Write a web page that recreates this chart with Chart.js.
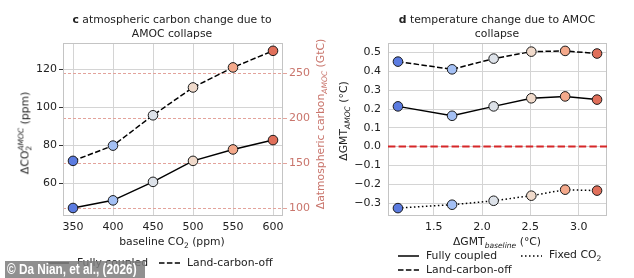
<!DOCTYPE html>
<html>
<head>
<meta charset="utf-8">
<script src="https://cdn.jsdelivr.net/npm/chart.js@4.4.1/dist/chart.umd.min.js"></script>
<style>
  body { margin: 0; background: #fff; width: 634px; height: 278px; position: relative; overflow: hidden;
         font-family: "DejaVu Sans", sans-serif; color: #222; }
  canvas { position: absolute; top: 0; }
  .txt { position: absolute; font-size: 10.8px; white-space: nowrap; line-height: 1; }
  .title { text-align: center; line-height: 14px; transform: translateX(-50%); }
  .rot { transform: translate(-50%, -50%) rotate(-90deg); }
  .hx { transform: translate(-50%, -50%); }
  .ss { display: inline-block; vertical-align: middle; font-size: 0.7em; line-height: 1; text-align: left; }
  .ss span { display: block; }
  sub { font-size: 0.7em; }
  .leg { position: absolute; font-size: 10.8px; line-height: 1; white-space: nowrap; transform: translateY(-50%); }
  .legline { position: absolute; }
  .wm { position: absolute; left: 5px; top: 261px; width: 140px; height: 17px; background: rgba(125,125,125,0.85);
        color: #fff; font: bold 14px "Liberation Sans", sans-serif; line-height: 17px;
        box-sizing: border-box; white-space: nowrap; overflow: hidden; }
  .wm span { display: inline-block; transform-origin: left center; transform: translateX(2px) scaleX(0.84); }
</style>
</head>
<body>
<canvas id="chartC" width="317" height="278" style="left:0"></canvas>
<canvas id="chartD" width="317" height="278" style="left:317px"></canvas>

<!-- titles -->
<div class="txt title" style="left:172px; top:13px"><b>c</b> atmospheric carbon change due to<br>AMOC collapse</div>
<div class="txt title" style="left:497px; top:13px"><b>d</b> temperature change due to AMOC<br>collapse</div>

<!-- axis titles -->
<div class="txt rot" style="left:25px; top:133px">ΔCO<span class="ss"><span><i>AMOC</i></span><span>2</span></span> (ppm)</div>
<div class="txt hx" style="left:172px; top:243px">baseline CO<sub>2</sub> (ppm)</div>
<div class="txt rot" style="left:322px; top:124px; color:#c9756c">Δatmospheric carbon<sub><i>AMOC</i></sub> (GtC)</div>
<div class="txt rot" style="left:345px; top:121px">ΔGMT<sub><i>AMOC</i></sub> (°C)</div>
<div class="txt hx" style="left:497px; top:243px">ΔGMT<sub><i>baseline</i></sub> (°C)</div>

<!-- legends -->
<svg class="legline" style="left:48px; top:259px" width="21" height="8"><line x1="0" y1="4" x2="21" y2="4" stroke="#000" stroke-width="1.5"/></svg>
<div class="leg" style="left:77px; top:263px">Fully coupled</div>
<svg class="legline" style="left:159px; top:259px" width="21" height="8"><line x1="0" y1="4" x2="21" y2="4" stroke="#000" stroke-width="1.5" stroke-dasharray="5.5 2.4"/></svg>
<div class="leg" style="left:187px; top:263px">Land-carbon-off</div>

<svg class="legline" style="left:398px; top:252px" width="21" height="8"><line x1="0" y1="4" x2="21" y2="4" stroke="#000" stroke-width="1.5"/></svg>
<div class="leg" style="left:426px; top:256px">Fully coupled</div>
<svg class="legline" style="left:398px; top:266px" width="21" height="8"><line x1="0" y1="4" x2="21" y2="4" stroke="#000" stroke-width="1.5" stroke-dasharray="5.5 2.4"/></svg>
<div class="leg" style="left:426px; top:270px">Land-carbon-off</div>
<svg class="legline" style="left:521px; top:252px" width="21" height="8"><line x1="0" y1="4" x2="21" y2="4" stroke="#000" stroke-width="1.5" stroke-dasharray="1.5 2.5"/></svg>
<div class="leg" style="left:549px; top:256px">Fixed CO<sub>2</sub></div>

<div class="wm"><span>© Da Nian, et al., (2026)</span></div>

<script>
// panel c data
const co2Baseline = [350, 400, 450, 500, 550, 600];
const fullyCoupledPpm = [47.2, 51.2, 60.9, 71.9, 77.9, 82.8];
const landOffPpm = [71.9, 79.9, 95.8, 110.4, 120.9, 129.6];
const co2Ticks = [350, 400, 450, 500, 550, 600];
const ppmTicks = [60, 80, 100, 120];
const gtcTicks = [100, 150, 200, 250];
const ppmToGtc = 2.12;

// panel d data
const gmtBaseline = [1.13, 1.69, 2.12, 2.51, 2.86, 3.19];
const fullyCoupledGmt = [0.214, 0.164, 0.214, 0.257, 0.267, 0.250];
const landOffGmt = [0.452, 0.411, 0.468, 0.505, 0.509, 0.495];
const fixedCo2Gmt = [-0.327, -0.309, -0.288, -0.261, -0.229, -0.234];
const gmtXTicks = [1.5, 2.0, 2.5, 3.0];
const gmtYTicks = [-0.3, -0.2, -0.1, 0.0, 0.1, 0.2, 0.3, 0.4, 0.5];
const zeroLevel = 0;

// marker colours (coolwarm-ish, one per baseline)
const pointColors = ['#5b7be0', '#a4c0f4', '#dde2e9', '#f0dacb', '#f4a98b', '#e06f5a'];

const FONT = { family: 'DejaVu Sans', size: 11 };
const GRID = '#d4d4d4';
const ROSE = '#c9756c';

function pairs(xs, ys) {
    return xs.map((x, i) => ({ x: x, y: ys[i] }));
}

function series(label, xs, ys, dash, axis) {
    return {
        label: label,
        data: pairs(xs, ys),
        yAxisID: axis || 'y',
        borderColor: '#000',
        borderWidth: 1.5,
        borderDash: dash,
        pointRadius: 4.8,
        pointHoverRadius: 4.8,
        pointBackgroundColor: pointColors,
        pointBorderColor: '#1a1a1a',
        pointBorderWidth: 1,
        tension: 0
    };
}

function fixTicks(list) {
    return function(scale) {
        scale.ticks = list.map(v => ({ value: v }));
    };
}

// light frame around the plot area
const framePlugin = {
    id: 'frame',
    beforeDatasetsDraw(chart) {
        const a = chart.chartArea;
        const ctx = chart.ctx;
        ctx.save();
        ctx.strokeStyle = '#c4c4c4';
        ctx.lineWidth = 1;
        ctx.strokeRect(Math.round(a.left) + 0.5, Math.round(a.top) + 0.5,
            Math.round(a.right - a.left) - 1, Math.round(a.bottom - a.top) - 1);
        ctx.restore();
    }
};

// red dashed zero line in panel d
const zeroPlugin = {
    id: 'zeroLine',
    beforeDatasetsDraw(chart) {
        const a = chart.chartArea;
        const y = chart.scales.y.getPixelForValue(zeroLevel);
        const ctx = chart.ctx;
        ctx.save();
        ctx.strokeStyle = '#d62728';
        ctx.lineWidth = 2;
        ctx.setLineDash([7.4, 3.2]);
        ctx.beginPath();
        ctx.moveTo(a.left, y);
        ctx.lineTo(a.right, y);
        ctx.stroke();
        ctx.restore();
    }
};

const ppmMin = 43.0, ppmMax = 133.7;

new Chart(document.getElementById('chartC'), {
    type: 'line',
    data: {
        datasets: [
            series('Fully coupled', co2Baseline, fullyCoupledPpm, []),
            series('Land-carbon-off', co2Baseline, landOffPpm, [5.5, 2.4])
        ]
    },
    options: {
        responsive: false,
        animation: false,
        events: [],
        layout: { padding: { top: 43, left: 0, right: 0, bottom: 0 } },
        plugins: { legend: { display: false }, title: { display: false }, tooltip: { enabled: false } },
        scales: {
            x: {
                type: 'linear',
                min: 337.5, max: 612.5,
                afterBuildTicks: fixTicks(co2Ticks),
                afterFit: s => { s.height = 62; },
                grid: { color: GRID, drawTicks: false },
                border: { display: false },
                ticks: { font: FONT, color: '#222', padding: 5, maxRotation: 0 }
            },
            y: {
                type: 'linear',
                position: 'left',
                min: ppmMin, max: ppmMax,
                afterBuildTicks: fixTicks(ppmTicks),
                afterFit: s => { s.width = 63; },
                grid: { color: GRID, tickColor: '#333', tickLength: 4 },
                border: { display: false },
                ticks: { font: FONT, color: '#222', padding: 2 }
            },
            y1: {
                type: 'linear',
                position: 'right',
                min: ppmMin * ppmToGtc, max: ppmMax * ppmToGtc,
                afterBuildTicks: fixTicks(gtcTicks),
                afterFit: s => { s.width = 34; },
                grid: { color: '#e3a39b', tickColor: '#e3a39b', tickLength: 4, lineWidth: 1 },
                border: { display: false, dash: [3, 2] },
                ticks: { font: FONT, color: ROSE, padding: 2 }
            }
        }
    },
    plugins: [framePlugin]
});

new Chart(document.getElementById('chartD'), {
    type: 'line',
    data: {
        datasets: [
            series('Fully coupled', gmtBaseline, fullyCoupledGmt, []),
            series('Land-carbon-off', gmtBaseline, landOffGmt, [5.5, 2.4]),
            series('Fixed CO2', gmtBaseline, fixedCo2Gmt, [1.5, 2.5])
        ]
    },
    options: {
        responsive: false,
        animation: false,
        events: [],
        layout: { padding: { top: 43, left: 0, right: 27, bottom: 0 } },
        plugins: { legend: { display: false }, title: { display: false }, tooltip: { enabled: false } },
        scales: {
            x: {
                type: 'linear',
                min: 1.027, max: 3.293,
                afterBuildTicks: fixTicks(gmtXTicks),
                afterFit: s => { s.height = 62; },
                grid: { color: GRID, drawTicks: false },
                border: { display: false },
                ticks: { font: FONT, color: '#222', padding: 5, maxRotation: 0,
                         callback: v => v.toFixed(1) }
            },
            y: {
                type: 'linear',
                min: -0.369, max: 0.551,
                afterBuildTicks: fixTicks(gmtYTicks),
                afterFit: s => { s.width = 71; },
                grid: { color: GRID, drawTicks: false },
                border: { display: false },
                ticks: { font: FONT, color: '#222', padding: 7,
                         callback: v => (Math.abs(v) < 1e-9 ? '0.0' : v.toFixed(1).replace('-', '\u2212')) }
            }
        }
    },
    plugins: [framePlugin, zeroPlugin]
});
</script>
</body>
</html>
